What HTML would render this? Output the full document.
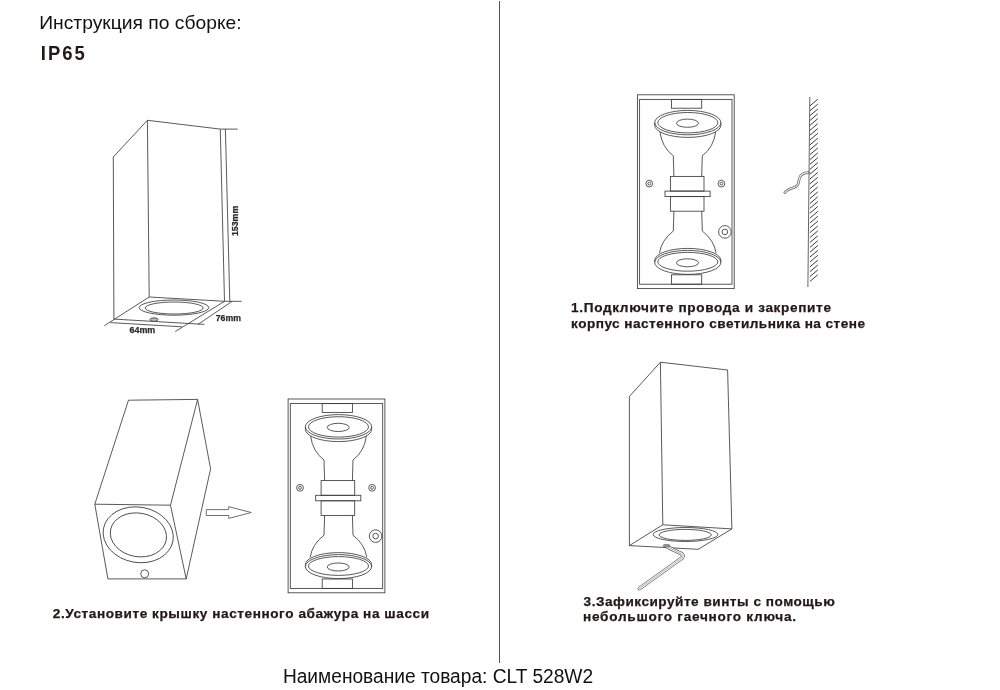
<!DOCTYPE html>
<html><head><meta charset="utf-8">
<style>
html,body{margin:0;padding:0;background:#fff;width:1000px;height:690px;overflow:hidden}
svg{display:block;will-change:transform}
.t{font-family:"Liberation Sans",sans-serif}
.cap{font-family:"Liberation Sans",sans-serif;font-weight:bold;font-size:13.6px;fill:#231815;stroke:#231815;stroke-width:0.25}
.dim{font-family:"Liberation Sans",sans-serif;font-weight:bold;font-size:8.8px;fill:#2a2a2a;stroke:#2a2a2a;stroke-width:0.25}
.ln{fill:none;stroke:#3c3c3c;stroke-width:0.85}
</style></head><body>
<svg width="1000" height="690" viewBox="0 0 1000 690">
<defs>
<g id="chassis" class="ln">
  <rect x="288.1" y="399" width="96.8" height="193.8"/>
  <rect x="290.3" y="403.6" width="92.4" height="184.8"/>
  <rect x="322.2" y="403.6" width="30.2" height="8.8"/>
  <rect x="322.2" y="579" width="30.2" height="9.4"/>
  <!-- top lamp -->
  <ellipse cx="338.5" cy="426.8" rx="33.1" ry="12.2"/>
  <path d="M305.4 426.8 L305.4 429.4 A33.1 12.2 0 0 0 371.6 429.4 L371.6 426.8"/>
  <ellipse cx="338.5" cy="426.9" rx="30" ry="10.2"/>
  <ellipse cx="338.2" cy="427.4" rx="11" ry="4.1"/>
  <path d="M310.6 435.9 Q312.6 451.5 324 460 L324.6 480.6"/>
  <path d="M366.4 435.9 Q364.4 451.5 353 460 L352.4 480.6"/>
  <!-- collar -->
  <rect x="321.1" y="480.6" width="33.6" height="14.7"/>
  <rect x="315.7" y="495.3" width="45.1" height="5.5"/>
  <rect x="321.1" y="500.8" width="33.6" height="14.6"/>
  <!-- lower neck -->
  <path d="M324.6 515.4 L324 535.2 Q312 544.5 310.2 557.4"/>
  <path d="M352.4 515.4 L353 535.2 Q365 544.5 366.8 557.4"/>
  <!-- bottom lamp -->
  <ellipse cx="338.5" cy="566.6" rx="33.1" ry="12"/>
  <path d="M305.4 566.6 L305.4 564.6 A33.1 12 0 0 1 371.6 564.6 L371.6 566.6"/>
  <ellipse cx="338.5" cy="566" rx="30" ry="9.4"/>
  <ellipse cx="338.2" cy="567" rx="11" ry="4"/>
  <!-- screws -->
  <circle cx="300" cy="487.8" r="3.4"/>
  <circle cx="300" cy="487.8" r="1.4"/>
  <circle cx="372.1" cy="487.8" r="3.4"/>
  <circle cx="372.1" cy="487.8" r="1.4"/>
  <circle cx="375.6" cy="536.1" r="6.3"/>
  <circle cx="375.6" cy="536.1" r="2.8"/>
</g>
</defs>

<!-- divider -->
<line x1="499.5" y1="1" x2="499.5" y2="663" stroke="#555" stroke-width="1"/>

<!-- header -->
<text class="t" x="39.2" y="28.8" font-size="19" fill="#111" textLength="202.5" lengthAdjust="spacingAndGlyphs">Инструкция по сборке:</text>
<text class="t" transform="translate(40.8 59.8) scale(0.9 1)" x="0" y="0" font-size="20.5" font-weight="bold" fill="#231815" textLength="49" lengthAdjust="spacing">IP65</text>

<!-- drawing 1 -->
<g class="ln">
  <path d="M113.9 319.1 L113.3 157 L147.4 120.3 L220.3 129.1 L237.7 129.1"/>
  <path d="M147.4 120.3 L149.2 297"/>
  <path d="M220.3 129.1 L224.5 301.3 L241.7 301.3"/>
  <path d="M225.4 129.1 L229.8 301.3"/>
  <path d="M149.2 297 L224.5 301.3"/>
  <path d="M149.2 297 L104.3 325.7"/>
  <path d="M113.9 319.1 L204.4 324.4"/>
  <path d="M224.5 301.3 L175.2 331.6"/>
  <path d="M232.2 301.3 L198 324.4"/>
  <path d="M110.4 322.6 L182 326.8"/>
  <ellipse cx="174" cy="307.6" rx="34.8" ry="7.6"/>
  <ellipse cx="174.2" cy="308" rx="29" ry="6"/>
  <ellipse cx="154" cy="319.6" rx="4" ry="1.8" fill="#bbb"/>
</g>
<text class="dim" x="129.5" y="333" textLength="25.7" lengthAdjust="spacingAndGlyphs">64mm</text>
<text class="dim" x="215.7" y="321.3" textLength="25.2" lengthAdjust="spacingAndGlyphs">76mm</text>
<text class="dim" transform="translate(238.3 236.1) rotate(-90)" x="0" y="0" textLength="30.4" lengthAdjust="spacingAndGlyphs">153mm</text>

<!-- drawing 2 -->
<g class="ln">
  <path d="M128.5 400.2 L197.6 399.4 L210.6 468.9 L186.2 578.9 L107.9 578.9 L94.8 504.2 Z"/>
  <path d="M94.8 504.2 L170.5 505.2 L186.2 578.9"/>
  <path d="M197.6 399.4 L170.5 505.2"/>
  <ellipse cx="138.2" cy="534.8" rx="35.3" ry="27.7" transform="rotate(10 138.2 534.8)"/>
  <ellipse cx="138.4" cy="534.9" rx="28.3" ry="21.8" transform="rotate(10 138.4 534.9)"/>
  <circle cx="144.7" cy="573.8" r="4"/>
  <path d="M206.3 509.6 L228.7 509.6 L228.7 506.7 L251.3 512.5 L228.7 518.4 L228.7 515.5 L206.3 515.5 Z" stroke="#707070" stroke-width="1"/>
</g>

<!-- drawing 3 -->
<use href="#chassis"/>

<!-- drawing 4 -->
<use href="#chassis" transform="translate(349.3 -304.2)"/>

<!-- wall -->
<g class="ln">
  <path d="M809.8 97 L807.9 287" stroke="#666" stroke-width="1"/>
</g>
<path stroke="#3a3a3a" stroke-width="1" fill="none" d="M809.9 105.9 L817.8 99.2 M809.9 110.8 L817.8 104.1 M809.9 115.7 L817.8 109.0 M809.9 120.5 L817.8 113.8 M809.9 125.4 L817.8 118.7 M809.9 130.3 L817.8 123.6 M809.9 135.2 L817.8 128.5 M809.9 140.0 L817.8 133.3 M809.9 144.9 L817.8 138.2 M809.9 149.8 L817.8 143.1 M809.9 154.7 L817.8 148.0 M809.9 159.6 L817.8 152.9 M809.9 164.4 L817.8 157.7 M809.9 169.3 L817.8 162.6 M809.9 174.2 L817.8 167.5 M809.9 179.1 L817.8 172.4 M809.9 183.9 L817.8 177.2 M809.9 188.8 L817.8 182.1 M809.9 193.7 L817.8 187.0 M809.9 198.6 L817.8 191.9 M809.9 203.5 L817.8 196.8 M809.9 208.3 L817.8 201.6 M809.9 213.2 L817.8 206.5 M809.9 218.1 L817.8 211.4 M809.9 223.0 L817.8 216.3 M809.9 227.8 L817.8 221.1 M809.9 232.7 L817.8 226.0 M809.9 237.6 L817.8 230.9 M809.9 242.5 L817.8 235.8 M809.9 247.4 L817.8 240.7 M809.9 252.2 L817.8 245.5 M809.9 257.1 L817.8 250.4 M809.9 262.0 L817.8 255.3 M809.9 266.9 L817.8 260.2 M809.9 271.7 L817.8 265.0 M809.9 276.6 L817.8 269.9 M809.9 281.5 L817.8 274.8"/>
<path d="M808.5 172.6 C804.5 172.6 800.6 174 799.4 178.5 C798.3 183 798.6 186.2 793.5 187.8 C789.5 189 787 189.8 784.8 192.5" fill="none" stroke="#666" stroke-width="2.6" stroke-linecap="round"/>
<path d="M808 172.6 C804.5 172.6 800.6 174 799.4 178.5 C798.3 183 798.6 186.2 793.5 187.8 C789.5 189 787 189.8 784.8 192.5" fill="none" stroke="#f4f4f4" stroke-width="1.1" stroke-linecap="round"/>

<!-- drawing 5 -->
<g class="ln">
  <path d="M629.4 545.6 L629.4 396.5 L660.4 362.2 L727.6 370 L731.9 528.9 L698.2 549.3 L629.4 545.6"/>
  <path d="M660.4 362.2 L662.8 524.8 L731.9 528.9"/>
  <path d="M662.8 524.8 L629.4 545.6"/>
  <ellipse cx="685.5" cy="534.5" rx="32.3" ry="7"/>
  <ellipse cx="685.2" cy="534.9" rx="26.1" ry="5.5"/>
</g>
<path d="M667.5 547 L681 553.5 Q684.5 555.5 682 558 L639.5 588.5" fill="none" stroke="#6a6a6a" stroke-width="3.9" stroke-linecap="round" stroke-linejoin="round"/>
<path d="M667.5 547 L681 553.5 Q684.5 555.5 682 558 L639.5 588.5" fill="none" stroke="#fff" stroke-width="2.4" stroke-linecap="round" stroke-linejoin="round"/>
<path d="M667.5 547 L681 553.5 Q684.5 555.5 682 558 L639.5 588.5" fill="none" stroke="#8a8a8a" stroke-width="0.7" stroke-linecap="round" stroke-linejoin="round"/>
<ellipse cx="666.5" cy="545.6" rx="3.6" ry="1.2" fill="#999" stroke="#555" stroke-width="0.6"/>

<!-- captions -->
<text class="cap" transform="translate(571.1 312.0)" x="0" y="0" textLength="259.90" lengthAdjust="spacing">1.Подключите провода и закрепите</text>
<text class="cap" transform="translate(571.1 327.7)" x="0" y="0" textLength="293.90" lengthAdjust="spacing">корпус настенного светильника на стене</text>
<text class="cap" transform="translate(52.8 617.6)" x="0" y="0" textLength="376.20" lengthAdjust="spacing">2.Установите крышку настенного абажура на шасси</text>
<text class="cap" transform="translate(583.6 605.7)" x="0" y="0" textLength="251.20" lengthAdjust="spacing">3.Зафиксируйте винты с помощью</text>
<text class="cap" transform="translate(583.0 621.4)" x="0" y="0" textLength="213.00" lengthAdjust="spacing">небольшого гаечного ключа.</text>

<!-- footer -->
<text class="t" x="282.9" y="682.5" font-size="19.4" fill="#111" textLength="310.2" lengthAdjust="spacingAndGlyphs">Наименование товара: CLT 528W2</text>
</svg>
</body></html>
